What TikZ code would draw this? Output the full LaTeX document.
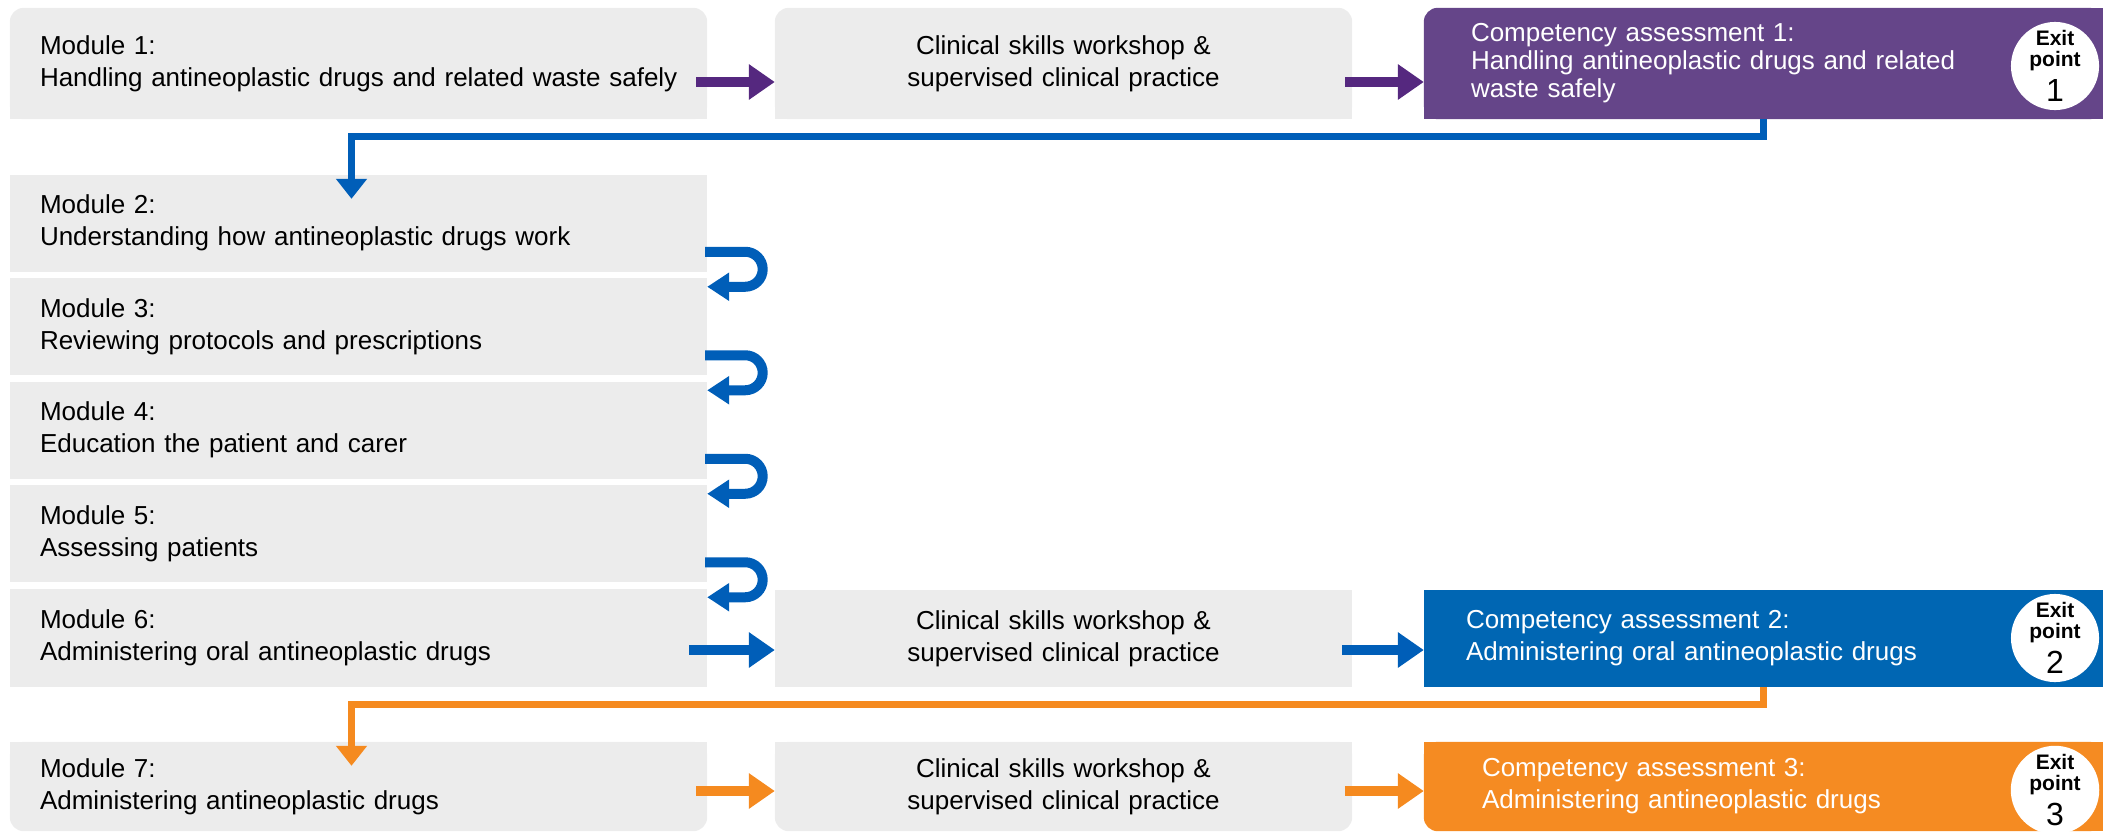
\documentclass[tikz,border=0pt]{standalone}
\usepackage{fontspec}
\setmainfont{Liberation Sans}
\usetikzlibrary{arrows.meta,calc,backgrounds}
\definecolor{boxgray}{HTML}{ECECEC}
\definecolor{purpbox}{HTML}{654589}
\definecolor{purparr}{HTML}{55287F}
\definecolor{bluebox}{HTML}{0066B3}
\definecolor{bluearr}{HTML}{005EB8}
\definecolor{orgbox}{HTML}{F58B22}
\definecolor{orgarr}{HTML}{F58A1F}
\begin{document}
\begin{tikzpicture}[x=1pt,y=-1pt,
  txt/.style={font=\fontsize{26}{32}\selectfont, inner ysep=0pt},
  mod/.style={txt, text width=637pt, inner xsep=30pt, align=left},
  clin/.style={txt, text width=577pt, inner xsep=0pt, align=center},
  comp/.style={txt, align=left, text=white},
  exitc/.style={circle, fill=white, minimum size=87pt, inner sep=0pt, align=center, font=\fontsize{21}{21}\selectfont\bfseries},
  harr/.style={line width=9.5pt, -{Triangle[width=34pt,length=26pt]}},
  conn/.style={line width=7pt, -{Triangle[width=30pt,length=20pt]}},
  uarr/.style={line width=10pt, bluearr, rounded corners=17.5pt, -{Triangle[width=27pt,length=22pt]}}
]
\useasboundingbox (0,0) rectangle (2103,831);

% ---- module column
\node[mod, minimum height=111pt] (m1) at (358.5,63.5) {Module 1:\\\mbox{Handling antineoplastic drugs and related waste safely}};
\node[mod, minimum height=96.5pt] (m2) at (358.5,223.25) {Module 2:\\Understanding how antineoplastic drugs work};
\node[mod, minimum height=96.5pt] (m3) at (358.5,326.75) {Module 3:\\Reviewing protocols and prescriptions};
\node[mod, minimum height=96.5pt] (m4) at (358.5,430.25) {Module 4:\\Education the patient and carer};
\node[mod, minimum height=96.5pt] (m5) at (358.5,533.75) {Module 5:\\Assessing patients};
\node[mod, minimum height=97pt] (m6) at (358.5,638) {Module 6:\\Administering oral antineoplastic drugs};
\node[mod, minimum height=89pt] (m7) at (358.5,786.5) {Module 7:\\Administering antineoplastic drugs};

% ---- clinical column
\node[clin, minimum height=111pt] (c1) at (1063.5,63.5) {Clinical skills workshop \&\\supervised clinical practice};
\node[clin, minimum height=97pt] (c6) at (1063.5,638.5) {Clinical skills workshop \&\\supervised clinical practice};
\node[clin, minimum height=89pt] (c7) at (1063.5,786.5) {Clinical skills workshop \&\\supervised clinical practice};

% ---- competency column
\node[comp, font=\fontsize{26}{28}\selectfont, text width=585pt, inner xsep=47pt, minimum height=111pt] (a1) at (1763.5,63.5) {Competency assessment 1:\\Handling antineoplastic drugs and related\\waste safely};
\node[comp, text width=595pt, inner xsep=42pt, minimum height=97pt] (a6) at (1763.5,638.5) {Competency assessment 2:\\Administering oral antineoplastic drugs};
\node[comp, text width=563pt, inner xsep=58pt, minimum height=89pt] (a7) at (1763.5,786.5) {Competency assessment 3:\\Administering antineoplastic drugs};

% ---- exit points
\node[exitc] (e1) at (2055,66) {Exit\\point\\[8pt]{\fontsize{32}{32}\selectfont\mdseries 1}};
\node[exitc] (e2) at (2055,638) {Exit\\point\\[8pt]{\fontsize{32}{32}\selectfont\mdseries 2}};
\node[exitc] (e3) at (2055,790) {Exit\\point\\[8pt]{\fontsize{32}{32}\selectfont\mdseries 3}};

% ---- box fills
\begin{scope}[on background layer]
  \foreach \n in {m2,m3,m4,m5,m6,c6} \fill[boxgray] (\n.south west) rectangle (\n.north east);
  \foreach \n in {m1,c1} {
    \fill[boxgray, rounded corners=14pt] (\n.south west) rectangle (\n.north east);
    \fill[boxgray] (\n.west) rectangle (\n.south east);
  }
  \foreach \n in {m7,c7} {
    \fill[boxgray, rounded corners=14pt] (\n.south west) rectangle (\n.north east);
    \fill[boxgray] (\n.north west) rectangle (\n.east);
  }
  \fill[purpbox, rounded corners=14pt] (a1.south west) rectangle (a1.north east);
  \fill[purpbox] (a1.west) rectangle (a1.south east);
  \fill[purpbox] (a1.north) rectangle (a1.south east);
  \fill[bluebox] (a6.south west) rectangle (a6.north east);
  \fill[orgbox, rounded corners=14pt] (a7.south west) rectangle (a7.north east);
  \fill[orgbox] (a7.north west) rectangle (a7.east);
  \fill[orgbox] (a7.north) rectangle (a7.south east);
\end{scope}

% ---- horizontal arrows
\coordinate (p1s) at (696,82);
\coordinate (p2s) at (1345,82);
\coordinate (b1s) at (689,650);
\coordinate (b2s) at (1342,650);
\coordinate (o1s) at (696,791);
\coordinate (o2s) at (1345,791);
\draw[harr, purparr] (p1s) -- (p1s -| c1.west);
\draw[harr, purparr] (p2s) -- (p2s -| a1.west);
\draw[harr, bluearr] (b1s) -- (b1s -| c6.west);
\draw[harr, bluearr] (b2s) -- (b2s -| a6.west);
\draw[harr, orgarr] (o1s) -- (o1s -| c7.west);
\draw[harr, orgarr] (o2s) -- (o2s -| a7.west);

% ---- row connectors
\draw[conn, bluearr] (a1.south) -- ++(0,17) -| ([xshift=-7pt,yshift=-24pt]m2.north);
\draw[conn, orgarr] (a6.south) -- ++(0,17) -| ([xshift=-7pt,yshift=-24pt]m7.north);

% ---- U-turn arrows
\draw[uarr] ($(m2.east)+(-2,28.5)$) -- ++(57.5,0) -- ++(0,35) coordinate (u2) -- (u2 -| m3.east);
\draw[uarr] ($(m3.east)+(-2,28.5)$) -- ++(57.5,0) -- ++(0,35) coordinate (u3) -- (u3 -| m4.east);
\draw[uarr] ($(m4.east)+(-2,28.5)$) -- ++(57.5,0) -- ++(0,35) coordinate (u4) -- (u4 -| m5.east);
\draw[uarr] ($(m5.east)+(-2,28.5)$) -- ++(57.5,0) -- ++(0,35) coordinate (u5) -- (u5 -| m6.east);
\end{tikzpicture}
\end{document}
